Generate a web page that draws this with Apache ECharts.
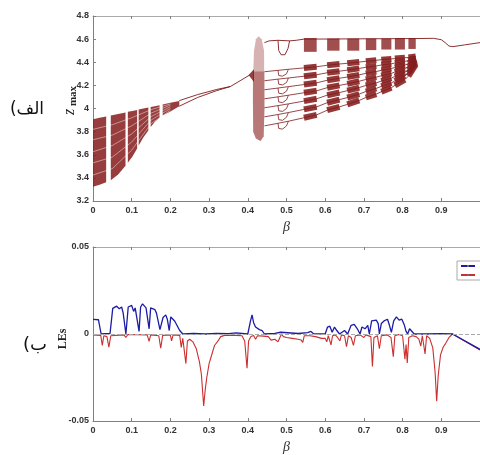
<!DOCTYPE html>
<html>
<head>
<meta charset="utf-8">
<script src="https://cdn.jsdelivr.net/npm/echarts@6/dist/echarts.min.js"></script>
<style>
  html, body { margin: 0; padding: 0; background: #fff; }
  #chart { width: 480px; height: 455px; }
</style>
</head>
<body>
<div id="chart"></div>
<script>
// ---------- top panel: bifurcation diagram, z_max against beta ----------
// chaotic band on the left, boundaries sampled at knots, split by periodic windows
const bandBeta   = [0, 0.017, 0.034, 0.046, 0.065, 0.084, 0.09, 0.102, 0.114, 0.118, 0.13, 0.143, 0.149, 0.16, 0.172, 0.18, 0.2, 0.223];
const bandTop    = [3.907, 3.919, 3.931, 3.940, 3.953, 3.966, 3.971, 3.979, 3.988, 3.991, 3.999, 4.008, 4.012, 4.020, 4.029, 4.034, 4.049, 4.065];
const bandBottom = [3.324, 3.340, 3.362, 3.380, 3.430, 3.505, 3.530, 3.585, 3.655, 3.680, 3.750, 3.810, 3.840, 3.885, 3.920, 3.940, 3.975, 4.020];
const bandBlocks = [[0, 0.034], [0.046, 0.084], [0.09, 0.114], [0.118, 0.143], [0.149, 0.172], [0.18, 0.223]];

// light gaps between the sub-bands inside the left band
const stripeBeta = [0, 0.05, 0.1, 0.15, 0.2];
const stripes = [
  [3.425, 3.48, 3.64, 3.87, 3.985],
  [3.53, 3.58, 3.71, 3.90, 4.0],
  [3.626, 3.68, 3.78, 3.93, 4.015],
  [3.73, 3.77, 3.85, 3.96, 4.03],
  [3.82, 3.86, 3.92, 3.99, 4.04]
];

// period-2 then period-1 branch up to the crisis
const p2Beta  = [0.223, 0.27, 0.32, 0.355];
const p2Upper = [4.068, 4.12, 4.165, 4.19];
const p2Lower = [4.02, 4.095, 4.155, 4.19];
const p1Beta  = [0.355, 0.38, 0.405];
const p1Z     = [4.19, 4.24, 4.29];

// narrow chaotic burst near beta = 0.42
const burstBeta     = [0.414, 0.416, 0.421, 0.428, 0.436, 0.442, 0.443, 0.441, 0.433, 0.421, 0.414, 0.413];
const burstZ        = [4.30, 4.50, 4.60, 4.625, 4.60, 4.50, 4.00, 3.76, 3.72, 3.74, 3.80, 4.10];
const burstCoreBeta = [0.413, 0.443, 0.443, 0.441, 0.433, 0.421, 0.414];
const burstCoreZ    = [4.32, 4.32, 4.00, 3.76, 3.72, 3.74, 3.80];
const wedgeBeta     = [0.402, 0.416, 0.416];
const wedgeZ        = [4.29, 4.34, 4.23];

// fan of seven branches between 0.443 and 0.834
const fanBeta = [0.443, 0.478, 0.505, 0.545, 0.578, 0.605, 0.637, 0.657, 0.688, 0.705, 0.732, 0.745, 0.771, 0.780, 0.806, 0.815, 0.834];
const fanLines = [
  [4.318, 4.330, 4.339, 4.351, 4.361, 4.374, 4.385, 4.391, 4.402, 4.408, 4.417, 4.422, 4.429, 4.432, 4.439, 4.442, 4.450],
  [4.240, 4.254, 4.264, 4.279, 4.292, 4.309, 4.323, 4.332, 4.347, 4.356, 4.368, 4.376, 4.387, 4.393, 4.407, 4.415, 4.438],
  [4.162, 4.177, 4.189, 4.207, 4.222, 4.244, 4.262, 4.272, 4.291, 4.304, 4.320, 4.330, 4.346, 4.355, 4.376, 4.388, 4.427],
  [4.084, 4.101, 4.115, 4.136, 4.153, 4.180, 4.200, 4.213, 4.236, 4.251, 4.271, 4.283, 4.304, 4.316, 4.345, 4.361, 4.415],
  [4.006, 4.025, 4.040, 4.064, 4.084, 4.115, 4.138, 4.154, 4.181, 4.199, 4.222, 4.237, 4.263, 4.277, 4.313, 4.334, 4.403],
  [3.928, 3.948, 3.965, 3.992, 4.014, 4.050, 4.077, 4.094, 4.125, 4.147, 4.174, 4.191, 4.221, 4.239, 4.282, 4.307, 4.392],
  [3.850, 3.872, 3.890, 3.920, 3.945, 3.985, 4.015, 4.035, 4.070, 4.095, 4.125, 4.145, 4.180, 4.200, 4.250, 4.280, 4.380]
];
// period-doubling bubbles on each fan branch (lower half)
const bubbleBeta = [0.478, 0.480, 0.490, 0.500, 0.505];
const bubbles = [
  [4.330, 4.285, 4.280, 4.300, 4.339],
  [4.254, 4.210, 4.204, 4.225, 4.264],
  [4.177, 4.132, 4.127, 4.150, 4.189],
  [4.101, 4.056, 4.051, 4.075, 4.115],
  [4.025, 3.980, 3.975, 4.000, 4.040],
  [3.948, 3.903, 3.898, 3.925, 3.965],
  [3.872, 3.827, 3.822, 3.850, 3.890]
];
// chaotic windows shared by the fan and the upper branch
const chaosWindows = [[0.545, 0.578], [0.605, 0.637], [0.657, 0.688], [0.705, 0.732], [0.745, 0.771], [0.780, 0.806], [0.815, 0.834]];

// upper branch near z = 4.6
const upperBeta = [0.443, 0.455, 0.478, 0.508, 0.525, 0.545, 0.834, 0.88, 0.90, 0.91, 0.92, 0.93, 0.96, 1.0];
const upperZ    = [4.57, 4.585, 4.59, 4.585, 4.59, 4.60, 4.605, 4.607, 4.595, 4.57, 4.54, 4.535, 4.55, 4.57];
const upperLoopBeta = [0.478, 0.480, 0.486, 0.496, 0.504, 0.508];
const upperLoopZ    = [4.59, 4.50, 4.465, 4.465, 4.52, 4.585];
const upperBlockTop    = [4.61, 4.605, 4.605, 4.605, 4.605, 4.61, 4.61];
const upperBlockBottom = [4.49, 4.50, 4.50, 4.505, 4.51, 4.51, 4.515];

// ---------- bottom panel: Lyapunov exponents ----------
const lambda1 = [
  [0, 0.0084], [0.014, 0.0082], [0.017, 0.0075], [0.021, 0.0], [0.03, 0.0002], [0.044, 0.0002],
  [0.051, 0.0147], [0.061, 0.016], [0.068, 0.0145], [0.074, 0.0155], [0.078, 0.012], [0.085, 0.0],
  [0.091, 0.0155], [0.1, 0.0164], [0.105, 0.013], [0.109, 0.015], [0.119, 0.0015], [0.123, 0.0155],
  [0.128, 0.0173], [0.137, 0.015], [0.145, 0.003], [0.149, 0.015], [0.16, 0.014], [0.164, 0.012],
  [0.173, 0.0025], [0.181, 0.0095], [0.188, 0.011], [0.192, 0.0085], [0.197, 0.002], [0.201, 0.0098],
  [0.211, 0.0075], [0.224, 0.002], [0.232, 0.0], [0.26, 0.0003], [0.29, 0.0], [0.32, 0.0004],
  [0.35, 0.0002], [0.37, 0.0006], [0.4, 0.0], [0.407, 0.0075], [0.411, 0.011], [0.415, 0.0065],
  [0.42, 0.004], [0.43, 0.0025], [0.437, 0.002], [0.443, 0.0], [0.47, 0.0003], [0.485, 0.001],
  [0.49, 0.0], [0.53, 0.0003], [0.555, 0.0008], [0.563, 0.0015], [0.57, 0.0002], [0.6, 0.0],
  [0.606, 0.004], [0.612, 0.0045], [0.618, 0.001], [0.624, 0.004], [0.63, 0.002], [0.637, 0.0],
  [0.65, 0.002], [0.658, 0.0], [0.667, 0.005], [0.675, 0.0055], [0.683, 0.003], [0.69, 0.0],
  [0.695, 0.004], [0.703, 0.003], [0.71, 0.005], [0.714, 0.0], [0.72, 0.0075], [0.732, 0.008],
  [0.737, 0.006], [0.74, 0.0], [0.745, 0.006], [0.752, 0.0075], [0.761, 0.0085], [0.766, 0.005],
  [0.771, 0.001], [0.777, 0.0075], [0.784, 0.0098], [0.791, 0.008], [0.798, 0.0085], [0.804, 0.0055],
  [0.809, 0.0015], [0.813, 0.0], [0.818, 0.003], [0.823, 0.002], [0.83, 0.0], [0.86, 0.0],
  [0.9, 0.0002], [0.929, 0.0], [1.0, -0.0088]
];
const lambda2 = [
  [0, -0.0005], [0.02, -0.0008], [0.024, -0.0065], [0.028, -0.001], [0.036, -0.0015], [0.041, -0.0075],
  [0.046, -0.001], [0.08, -0.0005], [0.085, -0.002], [0.09, -0.0003], [0.14, -0.0005], [0.145, -0.0042],
  [0.149, -0.0005], [0.17, -0.001], [0.175, -0.0082], [0.18, -0.0008], [0.2, -0.0006], [0.203, -0.004],
  [0.207, -0.0005], [0.224, -0.0008], [0.228, -0.0077], [0.232, -0.0025], [0.237, -0.003], [0.24, -0.017],
  [0.244, -0.004], [0.25, -0.003], [0.258, -0.0045], [0.267, -0.0085], [0.275, -0.016], [0.28, -0.023],
  [0.286, -0.0413], [0.29, -0.032], [0.294, -0.025], [0.3, -0.017], [0.306, -0.0125], [0.314, -0.0066],
  [0.323, -0.004], [0.33, -0.0015], [0.34, -0.0008], [0.37, -0.0008], [0.385, -0.001], [0.392, -0.004],
  [0.398, -0.0197], [0.402, -0.004], [0.408, -0.0015], [0.415, -0.0008], [0.42, -0.003], [0.425, -0.001],
  [0.44, -0.0012], [0.453, -0.0015], [0.46, -0.0035], [0.47, -0.003], [0.478, -0.0045], [0.483, -0.0045],
  [0.487, 0.0], [0.492, -0.0015], [0.5, -0.002], [0.515, -0.0025], [0.53, -0.003], [0.538, -0.0035],
  [0.542, -0.0048], [0.546, -0.001], [0.56, -0.001], [0.575, -0.0015], [0.59, -0.0025], [0.6, -0.0025],
  [0.604, -0.0045], [0.608, -0.001], [0.612, -0.002], [0.615, -0.0062], [0.619, -0.001], [0.626, -0.0005],
  [0.632, -0.002], [0.638, -0.004], [0.642, -0.0005], [0.65, -0.001], [0.655, -0.0072], [0.66, -0.001],
  [0.667, -0.002], [0.673, -0.0065], [0.678, -0.001], [0.69, -0.0005], [0.7, -0.002], [0.705, -0.0005],
  [0.718, -0.0015], [0.722, -0.0187], [0.726, -0.002], [0.735, -0.001], [0.74, -0.0085], [0.745, -0.001],
  [0.76, -0.0005], [0.77, -0.002], [0.776, -0.013], [0.78, -0.001], [0.79, -0.0003], [0.8, -0.001],
  [0.806, -0.0145], [0.809, -0.006], [0.812, -0.0166], [0.816, -0.002], [0.825, -0.001], [0.835, -0.0015],
  [0.842, -0.003], [0.847, -0.007], [0.851, -0.001], [0.855, -0.002], [0.858, -0.0115], [0.862, -0.001],
  [0.87, -0.0025], [0.878, -0.008], [0.884, -0.022], [0.888, -0.0386], [0.892, -0.024], [0.898, -0.012],
  [0.905, -0.0075], [0.911, -0.0055], [0.92, -0.002], [0.929, 0.0], [1.0, -0.0092]
];

const DARK = '#7e1a1a';
const FILL = '#8a2222';
const AXIS = '#808080';

const zip = (xs, ys) => xs.map((x, i) => [x, ys[i]]);

function line(data, color, width, z, grid, opacity) {
  return {
    type: 'line', xAxisIndex: grid ? 2 : 0, yAxisIndex: grid ? 1 : 0,
    data, symbol: 'none', silent: true, animation: false, z,
    lineStyle: { color, width, opacity: opacity == null ? 1 : opacity }
  };
}

function polys(list, fill, opacity, z) {
  return {
    type: 'custom', xAxisIndex: 0, yAxisIndex: 0, z, silent: true, animation: false,
    data: list.map(p => p[0]),
    renderItem: (params, api) => ({
      type: 'polygon',
      shape: { points: list[params.dataIndex].map(p => api.coord(p)) },
      style: { fill, opacity }
    })
  };
}

function segments(list, color, width, z) {
  return {
    type: 'custom', xAxisIndex: 0, yAxisIndex: 0, z, silent: true, animation: false,
    data: list, encode: { x: [0, 2], y: [1, 3] },
    renderItem: (params, api) => ({
      type: 'polyline',
      shape: { points: [api.coord([api.value(0), api.value(1)]), api.coord([api.value(2), api.value(3)])] },
      style: { stroke: color, lineWidth: width, fill: null, opacity: 0.9 }
    })
  };
}

// left band polygons, one per chaotic block
const bandPolys = bandBlocks.map(([b0, b1]) => {
  const idx = bandBeta.map((b, i) => i).filter(i => bandBeta[i] >= b0 && bandBeta[i] <= b1);
  const top = idx.map(i => [bandBeta[i], bandTop[i]]);
  const bot = idx.slice().reverse().map(i => [bandBeta[i], bandBottom[i]]);
  return top.concat(bot);
});

// fan patches: thick pieces of each branch inside the chaotic windows
const fanPatches = [];
fanLines.forEach(zs => {
  chaosWindows.forEach(([b0, b1]) => {
    const i0 = fanBeta.indexOf(b0), i1 = fanBeta.indexOf(b1);
    fanPatches.push([b0, zs[i0], b1, zs[i1]]);
  });
});

const upperBlocks = chaosWindows.map(([b0, b1], i) =>
  [[b0, upperBlockTop[i]], [b1, upperBlockTop[i]], [b1, upperBlockBottom[i]], [b0, upperBlockBottom[i]]]);

const tickFont = { fontFamily: 'Liberation Sans', fontSize: 9, fontWeight: 'bold', color: '#333' };

function xAxis(grid, top) {
  return {
    type: 'value', gridIndex: grid, position: top ? 'top' : 'bottom',
    min: 0, max: 1, interval: 0.1,
    axisLine: { show: true, onZero: false, lineStyle: { color: top ? '#aaa' : AXIS } },
    axisTick: { show: true, inside: true, length: 3, lineStyle: { color: AXIS } },
    axisLabel: top ? { show: false } : Object.assign({ margin: 5, showMaxLabel: false }, tickFont),
    splitLine: { show: false },
    name: top ? '' : 'β', nameLocation: 'middle', nameGap: 19,
    nameTextStyle: { fontFamily: 'Liberation Serif', fontStyle: 'italic', fontSize: 14, color: '#333' }
  };
}

const chart = echarts.init(document.getElementById('chart'));

chart.setOption({
  backgroundColor: '#fff',
  animation: false,
  grid: [
    { left: 93, top: 16, width: 388, height: 185 },
    { left: 93, top: 247, width: 388, height: 184 }
  ],
  xAxis: [xAxis(0, false), xAxis(0, true), xAxis(1, false), xAxis(1, true)],
  yAxis: [
    {
      type: 'value', gridIndex: 0, min: 3.2, max: 4.8, interval: 0.2,
      axisLine: { show: true, lineStyle: { color: AXIS } },
      axisTick: { show: true, inside: true, length: 3, lineStyle: { color: AXIS } },
      axisLabel: Object.assign({ margin: 4 }, tickFont),
      splitLine: { show: false }
    },
    {
      type: 'value', gridIndex: 1, min: -0.05, max: 0.05, interval: 0.05,
      axisLine: { show: true, lineStyle: { color: AXIS } },
      axisTick: { show: true, inside: true, length: 3, lineStyle: { color: AXIS } },
      axisLabel: Object.assign({ margin: 4 }, tickFont),
      splitLine: { show: false }
    }
  ],
  legend: {
    data: ['λ1', 'λ2'], orient: 'vertical', left: 457, top: 261,
    itemWidth: 14, itemHeight: 2, itemGap: 3, padding: [2, 3],
    borderColor: '#aaa', borderWidth: 1, backgroundColor: '#fff',
    textStyle: { fontSize: 6, color: '#333' }
  },
  graphic: [
    { type: 'text', x: 27, y: 110, style: { text: '(الف', font: '17px "DejaVu Sans"', fill: '#111', align: 'center', verticalAlign: 'middle' } },
    { type: 'text', x: 35, y: 345, style: { text: '(ب', font: '18px "DejaVu Sans"', fill: '#111', align: 'center', verticalAlign: 'middle' } },
    { type: 'text', x: 70, y: 112, rotation: Math.PI / 2, style: { text: 'z', font: 'italic 16px "Liberation Serif"', fill: '#222', align: 'center', verticalAlign: 'middle' } },
    { type: 'text', x: 73, y: 96, rotation: Math.PI / 2, style: { text: 'max', font: 'bold 11px "Liberation Serif"', fill: '#222', align: 'center', verticalAlign: 'middle' } },
    { type: 'text', x: 63, y: 339, rotation: Math.PI / 2, style: { text: 'LEs', font: 'bold 12px "Liberation Serif"', fill: '#222', align: 'center', verticalAlign: 'middle' } }
  ],
  series: [
    // top panel
    polys(bandPolys, FILL, 0.88, 2),
    ...stripes.map(s => line(zip(stripeBeta, s), '#fff', 0.8, 3, false, 0.55)),
    line(zip(p2Beta, p2Upper), DARK, 0.9, 4),
    line(zip(p2Beta, p2Lower), DARK, 0.9, 4),
    line(zip(p1Beta, p1Z), DARK, 0.9, 4),
    polys([zip(burstBeta, burstZ)], '#b06666', 0.5, 2),
    polys([zip(burstCoreBeta, burstCoreZ)], '#8a2020', 0.4, 2),
    polys([zip(wedgeBeta, wedgeZ)], '#7a1010', 0.8, 3),
    ...fanLines.map(zs => line(zip(fanBeta, zs), DARK, 0.8, 4)),
    ...bubbles.map(zs => line(zip(bubbleBeta, zs), DARK, 0.8, 4)),
    segments(fanPatches, FILL, 6, 3),
    line(zip(upperBeta, upperZ), DARK, 0.9, 4),
    line(zip(upperLoopBeta, upperLoopZ), DARK, 0.9, 4),
    polys(upperBlocks, FILL, 0.8, 3),
    // bottom panel
    Object.assign(line([[0, 0], [1, 0]], 'rgba(0,0,0,0)', 0, 1, true), {
      markLine: {
        silent: true, symbol: 'none', label: { show: false },
        lineStyle: { type: 'dashed', color: '#aaa', width: 1 },
        data: [{ yAxis: 0 }]
      }
    }),
    Object.assign(line(lambda2, '#cc2e2e', 1.1, 3, true), { name: 'λ2' }),
    Object.assign(line(lambda1, '#1c1ca6', 1.3, 4, true), { name: 'λ1' })
  ]
});
</script>
</body>
</html>
